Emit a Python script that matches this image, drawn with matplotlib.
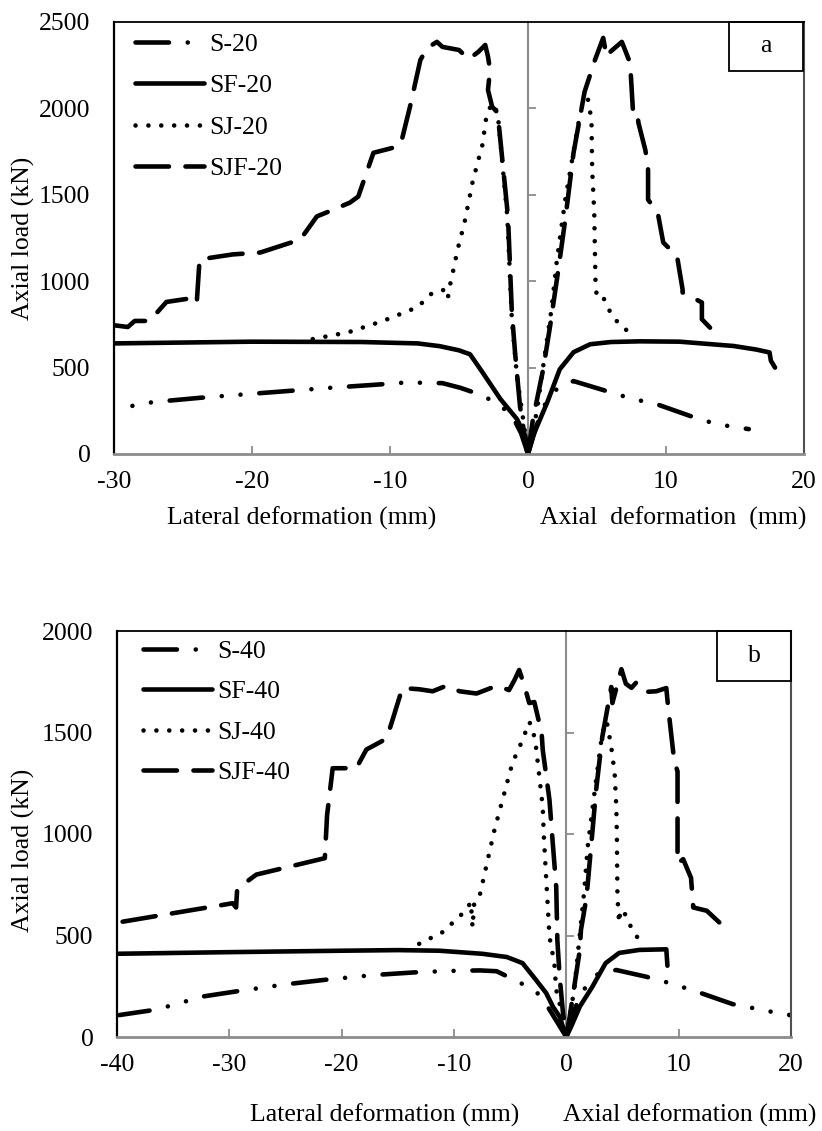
import matplotlib
matplotlib.use("Agg")
import matplotlib.pyplot as plt
from matplotlib.patches import Rectangle

plt.rcParams['font.family'] = ['Liberation Serif', 'DejaVu Serif']
plt.rcParams['font.size'] = 18.5
plt.rcParams['axes.unicode_minus'] = False

# ---------------- Panel a data ----------------
names_a = ["S-20", "SF-20", "SJ-20", "SJF-20"]

s20_lat_x = [0, -0.5, -1.2, -2.5, -3.7, -4.9, -6.2, -8.8, -11.2, -14.0, -16.5, -21.4, -23.8, -27.2, -29.6]
s20_lat_y = [0, 120, 230, 306, 350, 383, 410, 414, 400, 385, 370, 340, 325, 300, 265]
s20_ax_x = [0, 0.6, 1.3, 2.2, 3.3, 5.7, 6.9, 8.3, 9.3, 12.0, 13.2, 14.5, 16.0]
s20_ax_y = [0, 160, 300, 387, 422, 364, 335, 306, 289, 213, 184, 162, 144]

sf20_lat_x = [0, -0.2, -0.8, -2.0, -3.3, -4.2, -5.0, -6.4, -8, -12, -20, -25, -30]
sf20_lat_y = [0, 104, 202, 318, 473, 577, 600, 624, 640, 648, 650, 645, 640]
sf20_ax_x = [0, 0.36, 1.4, 2.3, 3.3, 4.5, 6, 8.1, 11, 14.9, 16.5, 17.5, 17.6, 17.9]
sf20_ax_y = [0, 104, 300, 490, 589, 635, 648, 652, 650, 625, 605, 588, 540, 500]

sj20_lat_x = [-15.6, -13, -10.5, -8.0, -6.9, -5.9, -5.8, -5.7, -5.4, -5.1, -4.6, -4.0, -3.3, -3.0,
              -2.6, -2.2, -1.9, -1.7, -1.5, -1.17, -0.8, -0.35, 0]
sj20_lat_y = [665, 705, 770, 850, 935, 953, 907, 960, 1068, 1184, 1339, 1580, 1790, 1963,
              2030, 1975, 1720, 1548, 1374, 780, 450, 200, 0]
sj20_ax_x = [0, 0.63, 1.1, 1.7, 2.1, 2.5, 2.7, 3.3, 3.8, 4.35, 4.6, 4.65, 4.8, 4.85, 4.9, 5.0,
             5.45, 6.1, 7.0, 7.6]
sj20_ax_y = [0, 242, 508, 837, 1126, 1357, 1472, 1750, 1980, 2050, 1934, 1645, 1397, 1166, 970, 907,
             907, 797, 722, 704]

sjf20_lat_x = [-30, -29.0, -28.5, -27.4, -27.2, -26.2, -24.1, -24.0, -23.8, -21.4, -19.4, -16.5, -15.3,
               -14.1, -12.9, -12.3, -11.2, -9.4, -9.2, -8.55, -7.8, -7.3, -6.6, -6.2, -5.0, -4.3,
               -3.6, -3.1, -2.9, -2.75, -2.9, -2.6, -2.2, -1.45, -1.17, -0.94, -0.58, -0.1, 0]
sjf20_lat_y = [745, 735, 770, 770, 790, 880, 905, 880, 1126, 1155, 1166, 1241, 1375,
               1414, 1455, 1490, 1743, 1780, 1800, 2010, 2280, 2350, 2385, 2356, 2338, 2285,
               2327, 2367, 2300, 2223, 2107, 2010, 1975, 1374, 820, 589, 277, 29, 0]
sjf20_ax_x = [0, 0.36, 1.1, 1.6, 2.2, 2.7, 3.3, 4.1, 4.85, 5.45, 5.7, 6.0, 6.8, 7.4, 7.6, 7.9, 8.0,
              8.5, 8.7, 8.7, 9.4, 9.8, 10.8, 11.2, 11.2, 12.6, 12.6, 13.3]
sjf20_ax_y = [0, 202, 490, 740, 1068, 1357, 1743, 2096, 2280, 2408, 2298, 2330, 2385, 2263, 1992, 1995,
              1917, 1760, 1663, 1472, 1397, 1224, 1145, 953, 935, 877, 780, 722]

# ---------------- Panel b data ----------------
names_b = ["S-40", "SF-40", "SJ-40", "SJF-40"]

s40_lat_x = [0, -1.0, -1.8, -2.7, -3.9, -6.2, -7.7, -10.7, -13.6, -17.2, -21.6, -24.9, -29.1, -32.3, -36.5, -39.8]
s40_lat_y = [0, 90, 162, 225, 261, 324, 328, 325, 318, 305, 281, 260, 227, 200, 135, 108]
s40_ax_x = [0, 0.5, 1.2, 2.0, 2.9, 4.45, 7.1, 8.9, 10.5, 12.0, 14.8, 16.3, 17.9, 19.9]
s40_ax_y = [0, 100, 200, 270, 315, 330, 297, 270, 243, 216, 162, 146, 128, 108]

sf40_lat_x = [0, -0.3, -0.6, -1.2, -1.8, -2.7, -3.9, -5.3, -7.5, -11.3, -15, -20, -30, -40]
sf40_lat_y = [0, 50, 100, 150, 217, 281, 364, 394, 410, 425, 428, 425, 418, 410]
sf40_ax_x = [0, 0.5, 1.2, 2.3, 3.5, 4.7, 6.5, 8.9, 9.0]
sf40_ax_y = [0, 60, 150, 246, 364, 414, 429, 432, 351]

sj40_lat_x = [-13.1, -11.0, -8.9, -8.5, -8.35, -8.2, -7.7, -7.0, -6.4, -4.8, -3.9, -3.3, -3.0, -2.7,
              -2.4, -2.1, -2.0, -1.7, -1.5, -1.07, -0.9, -0.3, 0]
sj40_lat_y = [459, 517, 626, 665, 540, 660, 700, 872, 1020, 1350, 1463, 1552, 1522, 1429,
              1281, 1133, 985, 690, 493, 364, 232, 97, 0]
sj40_ax_x = [0, 0.3, 0.7, 1.15, 1.6, 1.9, 2.65, 3.2, 3.6, 4.0, 4.3, 4.45, 4.5, 4.55, 4.7, 4.8, 5.1, 5.4, 6.3]
sj40_ax_y = [0, 100, 232, 478, 724, 936, 1266, 1498, 1555, 1429, 1300, 1133, 985, 690, 562, 620, 626, 576, 493]

sjf40_lat_x = [-39.5, -29.7, -29.4, -29.3, -27.6, -21.5, -21.3, -20.8, -18.7, -17.8, -16.0, -15.5, -14.6,
               -13.1, -11.9, -10.7, -9.5, -8.0, -6.2, -5.1, -4.6, -4.2, -3.7, -3.3, -2.85, -2.2, -2.1,
               -1.7, -1.5, -1.25, -0.9, -0.8, -0.6, -0.3, 0]
sjf40_lat_y = [568, 659, 638, 730, 800, 881, 1092, 1324, 1324, 1416, 1470, 1557, 1719,
               1713, 1703, 1730, 1703, 1692, 1730, 1709, 1760, 1808, 1724, 1645, 1650, 1498, 1414,
               1251, 1167, 985, 739, 478, 300, 120, 0]
sjf40_ax_x = [0, 0.3, 0.7, 1.2, 1.3, 1.8, 2.2, 2.65, 3.2, 4.0, 4.1, 4.9, 5.3, 5.8, 6.2, 6.5, 7.0, 8.0,
              8.9, 9.05, 9.6, 9.9, 9.9, 10.4, 11.1, 11.3, 12.5, 13.9]
sjf40_ax_y = [0, 100, 246, 429, 527, 690, 936, 1217, 1478, 1724, 1645, 1812, 1740, 1720, 1745, 1719, 1700, 1703,
              1719, 1632, 1362, 1308, 854, 876, 784, 638, 622, 550]

# ---------------- styles ----------------
LW = 3.3
styles = [
    dict(linestyle=(0, (7.3, 4.1, 0.01, 4.1, 0.01, 4.1))),   # S
    dict(linestyle='-'),                                     # SF
    dict(linestyle=(0, (0.01, 2.8))),                        # SJ
    dict(linestyle=(0, (7.3, 3.6))),                         # SJF
]

W, H = 822, 1131
fig = plt.figure(figsize=(W / 100, H / 100), dpi=100)


def make_panel(rect, xlim, xticks, ylim, yticks, series, names, tag, tagbox, leg_anchor, leg_spacing):
    l, t, r, b = rect
    ax = fig.add_axes([l / W, 1 - b / H, (r - l) / W, (b - t) / H])
    for (lx, ly, axx, axy), name, st in zip(series, names, styles):
        for xs, ys, lab in ((lx, ly, name), (axx, axy, None)):
            ax.plot(xs, ys, color='black', lw=LW, dash_capstyle='round',
                    solid_capstyle='round', solid_joinstyle='round', label=lab, **st)
    ax.set_xlim(*xlim)
    ax.set_ylim(*ylim)
    ax.set_xticks(xticks)
    ax.set_yticks(yticks)
    ax.tick_params(axis='y', length=0, pad=17)
    ax.tick_params(axis='x', direction='in', length=6, width=1.3, color='#8c8c8c', pad=12)
    ax.spines['left'].set_color('black')
    ax.spines['left'].set_linewidth(1.6)
    ax.spines['top'].set_color('black')
    ax.spines['top'].set_linewidth(1.3)
    ax.spines['right'].set_color('#505050')
    ax.spines['right'].set_linewidth(1.5)
    ax.spines['bottom'].set_color('#8c8c8c')
    ax.spines['bottom'].set_linewidth(2.0)

    # secondary (axial) axis at x = 0
    frac = (0 - xlim[0]) / (xlim[1] - xlim[0])
    sec = ax.secondary_yaxis(frac)
    sec.set_yticks(yticks[1:-1])
    sec.tick_params(axis='y', direction='out', length=6, width=1.3, color='#8c8c8c', labelright=False,
                    labelleft=False)
    for sp in sec.spines.values():
        sp.set_color('#8c8c8c')
        sp.set_linewidth(1.5)

    # tag box
    bx0, by0, bx1, by1 = tagbox
    ax.add_patch(Rectangle(((bx0 - l) / (r - l), 1 - (by1 - t) / (b - t)),
                           (bx1 - bx0) / (r - l), (by1 - by0) / (b - t),
                           transform=ax.transAxes, fill=False, edgecolor='black', lw=1.3,
                           clip_on=False, zorder=5))
    ax.text(((bx0 + bx1) / 2 - l) / (r - l), 1 - ((by0 + by1) / 2 - t) / (b - t), tag,
            transform=ax.transAxes, ha='center', va='center', fontsize=18.5, zorder=6)

    ax.legend(loc='upper left', bbox_to_anchor=leg_anchor, frameon=False, handlelength=2.7,
              handletextpad=0.2, borderpad=0, borderaxespad=0, labelspacing=leg_spacing,
              fontsize=18.5)
    return ax


series_a = [(s20_lat_x, s20_lat_y, s20_ax_x, s20_ax_y),
            (sf20_lat_x, sf20_lat_y, sf20_ax_x, sf20_ax_y),
            (sj20_lat_x, sj20_lat_y, sj20_ax_x, sj20_ax_y),
            (sjf20_lat_x, sjf20_lat_y, sjf20_ax_x, sjf20_ax_y)]
series_b = [(s40_lat_x, s40_lat_y, s40_ax_x, s40_ax_y),
            (sf40_lat_x, sf40_lat_y, sf40_ax_x, sf40_ax_y),
            (sj40_lat_x, sj40_lat_y, sj40_ax_x, sj40_ax_y),
            (sjf40_lat_x, sjf40_lat_y, sjf40_ax_x, sjf40_ax_y)]

ax_a = make_panel((114, 22, 804, 454), (-30, 20), [-30, -20, -10, 0, 10, 20],
                  (0, 2500), [0, 500, 1000, 1500, 2000, 2500], series_a, names_a, 'a',
                  (729, 22, 803, 71), (21 / 690, 1 - 11 / 432), 0.72)
ax_b = make_panel((117, 631, 791, 1037), (-40, 20), [-40, -30, -20, -10, 0, 10, 20],
                  (0, 2000), [0, 500, 1000, 1500, 2000], series_b, names_b, 'b',
                  (717, 631, 791, 681), (26 / 674, 1 - 9 / 406), 0.68)

# axis titles
fig.text(23 / W, 1 - 238 / H, 'Axial load (kN)', rotation=90, ha='center', va='center', fontsize=18.5)
fig.text(23 / W, 1 - 850 / H, 'Axial load (kN)', rotation=90, ha='center', va='center', fontsize=18.5)

fig.text(167 / W, 1 - 518 / H, 'Lateral deformation (mm)', ha='left', va='center', fontsize=18.5)
fig.text(540 / W, 1 - 518 / H, 'Axial  deformation  (mm)', ha='left', va='center', fontsize=18.5)
fig.text(250 / W, 1 - 1115 / H, 'Lateral deformation (mm)', ha='left', va='center', fontsize=18.5)
fig.text(563 / W, 1 - 1115 / H, 'Axial deformation (mm)', ha='left', va='center', fontsize=18.5)

fig.savefig('out.png', dpi=100)
